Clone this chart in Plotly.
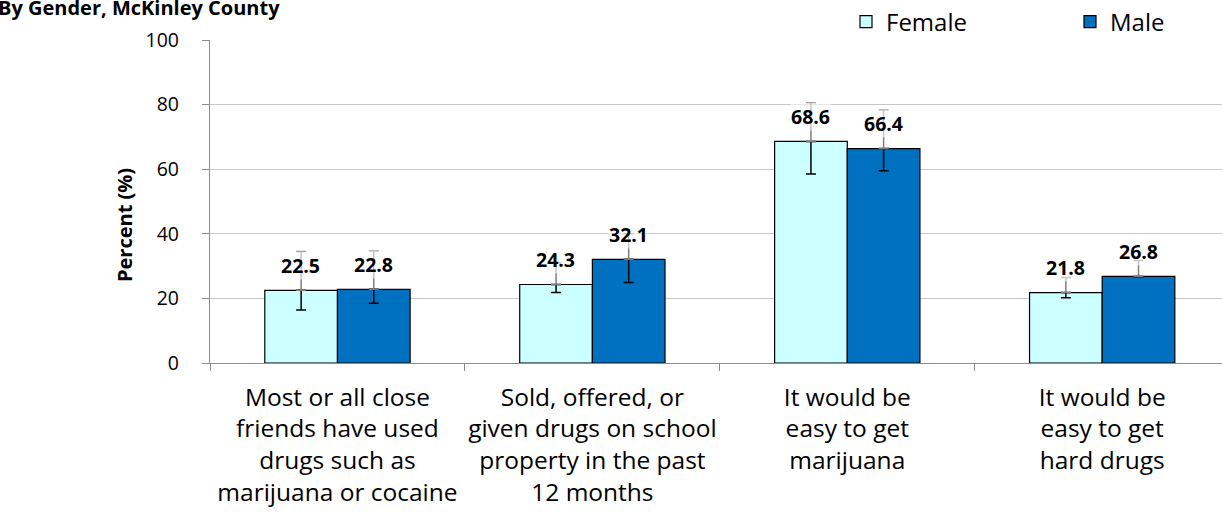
import plotly.graph_objects as go

categories = [
    "Most or all close<br>friends have used<br>drugs such as<br>marijuana or cocaine",
    "Sold, offered, or<br>given drugs on school<br>property in the past<br>12 months",
    "It would be<br>easy to get<br>marijuana",
    "It would be<br>easy to get<br>hard drugs",
]
female = [22.5, 24.3, 68.6, 21.8]
male = [22.8, 32.1, 66.4, 26.8]
female_upper = [34.5, 31.0, 80.6, 26.5]
female_lower = [16.4, 21.8, 58.5, 20.2]
male_upper = [34.7, 40.0, 78.3, 31.7]
male_lower = [18.5, 24.9, 59.5, 26.6]

FONT = "'Open Sans', Lato, sans-serif"
fem_color = "#CCFFFF"
male_color = "#0070C0"

fig = go.Figure()

def lower_err(vals, lows):
    return [v - l for v, l in zip(vals, lows)]

def upper_err(vals, ups):
    return [u - v for v, u in zip(vals, ups)]

fig.add_trace(go.Bar(
    name="Female", x=categories, y=female, offsetgroup="F", legend="legend",
    marker=dict(color=fem_color, line=dict(color="black", width=1.2)),
    error_y=dict(type="data", symmetric=False, array=[0]*4,
                 arrayminus=lower_err(female, female_lower),
                 color="black", thickness=1.5, width=5),
))
fig.add_trace(go.Bar(
    name="Male", x=categories, y=male, offsetgroup="M", legend="legend2",
    marker=dict(color=male_color, line=dict(color="black", width=1.2)),
    error_y=dict(type="data", symmetric=False, array=[0]*4,
                 arrayminus=lower_err(male, male_lower),
                 color="black", thickness=1.5, width=5),
))
fig.add_trace(go.Bar(
    name="F_up", x=categories, y=female, offsetgroup="F", showlegend=False,
    marker=dict(color="rgba(0,0,0,0)", line=dict(width=0)), hoverinfo="skip",
    error_y=dict(type="data", symmetric=False,
                 array=upper_err(female, female_upper), arrayminus=[0]*4,
                 color="#7F7F7F", thickness=1.5, width=5),
))
fig.add_trace(go.Bar(
    name="M_up", x=categories, y=male, offsetgroup="M", showlegend=False,
    marker=dict(color="rgba(0,0,0,0)", line=dict(width=0)), hoverinfo="skip",
    error_y=dict(type="data", symmetric=False,
                 array=upper_err(male, male_upper), arrayminus=[0]*4,
                 color="#7F7F7F", thickness=1.5, width=5),
))

for i, c in enumerate(categories):
    for vals, shift in ((female, -36.5), (male, 36.5)):
        fig.add_annotation(
            x=c, y=vals[i], xref="x", yref="y", text=f"<b>{vals[i]:.1f}</b>",
            showarrow=False, xshift=shift, yshift=25,
            font=dict(family=FONT, size=19.5, color="black"),
            bgcolor="rgba(255,255,255,0.55)", borderpad=0,
        )

fig.add_annotation(
    text="<b>By Gender, McKinley County</b>", xref="paper", yref="paper",
    x=-214 / 1012, y=1 + 32 / 323, xanchor="left", yanchor="middle",
    showarrow=False, font=dict(family=FONT, size=20, color="black"),
)
fig.add_annotation(
    text="<b>Percent (%)</b>", xref="paper", yref="paper", textangle=-90,
    x=(125 - 210) / 1012, y=1 - (225 - 40) / 323, xanchor="center", yanchor="middle",
    showarrow=False, font=dict(family=FONT, size=20, color="black"),
)

legend_common = dict(orientation="h", yanchor="middle", y=1 + 18 / 323,
                     xanchor="left", font=dict(family=FONT, size=24, color="black"),
                     bgcolor="rgba(0,0,0,0)", itemclick=False)

fig.update_layout(
    width=1222, height=521,
    margin=dict(l=210, r=0, t=40, b=158, autoexpand=False),
    paper_bgcolor="white", plot_bgcolor="white",
    barmode="group", bargap=0.43, bargroupgap=0,
    font=dict(family=FONT, size=19.5, color="black"),
    legend=dict(x=(846 - 210) / 1012, **legend_common),
    legend2=dict(x=(1070 - 210) / 1012, **legend_common),
    showlegend=True,
)
fig.update_xaxes(
    range=[-0.5, 3.47], showline=True, linecolor="#8C8C8C", linewidth=1.2,
    ticks="outside", tickson="boundaries", ticklen=7, tickcolor="#8C8C8C",
    tickfont=dict(family=FONT, size=24.5, color="black"), tickangle=0,
    ticklabelstandoff=12, showgrid=False, automargin=False,
)
fig.update_yaxes(
    range=[0, 100], dtick=20, showline=True, linecolor="#8C8C8C", linewidth=1.2,
    ticks="outside", ticklen=7, tickcolor="#8C8C8C",
    gridcolor="#C8C8C8", gridwidth=1.2, zeroline=False,
    tickfont=dict(family=FONT, size=19.5, color="black"),
    ticklabelstandoff=19, automargin=False,
)

fig.write_html("out.html", config={"displayModeBar": False},
               post_script="document.body.style.margin='0';")
